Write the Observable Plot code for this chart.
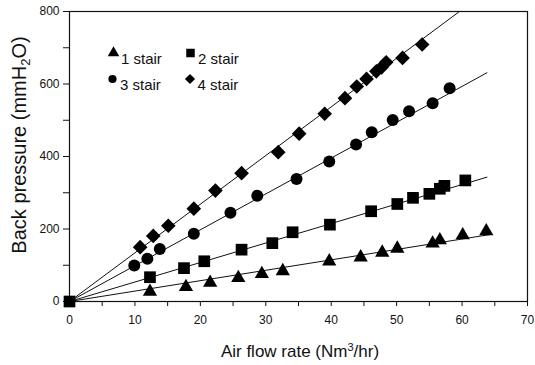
<!DOCTYPE html>
<html><head><meta charset="utf-8">
<script src="https://cdn.jsdelivr.net/npm/d3@7"></script>
<script src="https://cdn.jsdelivr.net/npm/@observablehq/plot@0.6"></script>
<style>
body{margin:0;background:#fff}
svg{font-family:"Liberation Sans",Arial,Helvetica,sans-serif}
</style>
</head><body><div id="chart"></div>
<script>
// Tick values
const xTicks = [0, 10, 20, 30, 40, 50, 60, 70];
const xMinor = [5, 15, 25, 35, 45, 55, 65];
const yTicks = [0, 200, 400, 600, 800];
const yMinor = [100, 300, 500, 700];

// Series
const seriesNames = ["1 stair", "2 stair", "3 stair", "4 stair"];
const seriesSymbols = ["triangle", "square", "circle", "diamond2"];

const stair1X = [12.3, 17.8, 21.5, 25.8, 29.4, 32.6, 39.7, 44.5, 47.8, 50.1, 55.5, 56.6, 60.1, 63.7];
const stair1Y = [27, 40, 52, 65, 76, 84, 111, 122, 135, 146, 160, 169, 183, 194];
const stair2X = [0, 12.3, 17.5, 20.6, 26.3, 31.0, 34.1, 39.8, 46.1, 50.1, 52.5, 55.0, 56.6, 57.3, 60.5];
const stair2Y = [0, 67, 92, 111, 143, 161, 191, 212, 249, 269, 286, 297, 311, 319, 334];
const stair3X = [9.9, 11.9, 13.8, 19.0, 24.6, 28.7, 34.7, 39.7, 43.8, 46.2, 49.4, 51.9, 55.5, 58.1];
const stair3Y = [99, 118, 145, 187, 245, 292, 338, 386, 433, 467, 501, 525, 547, 588];
const stair4X = [10.8, 12.8, 15.1, 19.0, 22.3, 26.3, 31.9, 35.1, 39.0, 42.1, 43.9, 45.4, 46.9, 47.7, 48.4, 50.9, 53.9];
const stair4Y = [150, 181, 209, 256, 306, 354, 412, 463, 518, 561, 593, 614, 635, 646, 660, 672, 709];

// Fitted lines through the origin: end points
const fitStartX = [0, 0, 0, 0];
const fitStartY = [0, 0, 0, 0];
const fitEndX = [64.4, 63.8, 63.8, 59.6];
const fitEndY = [185, 343, 631, 800];

const seriesX = [stair1X, stair2X, stair3X, stair4X];
const seriesY = [stair1Y, stair2Y, stair3Y, stair4Y];

const toRows = (xs, ys) => xs.map((x, i) => ({x, y: ys[i]}));
const fitRows = seriesNames.flatMap((s, i) => [
  {series: s, x: fitStartX[i], y: fitStartY[i]},
  {series: s, x: fitEndX[i], y: fitEndY[i]}
]);

const markerR = [5.3, 6.6, 6, 6.6];
const legendR = [4.3, 4.8, 4.1, 4.6];
const drawOrder = [0, 2, 3, 1];

const legendPos = [[44, 41.5], [121, 41.5], [43, 67.5], [120.5, 67.5]];

const marks = [
  Plot.frame({stroke: "#111", strokeWidth: 1.2}),
  Plot.axisX(xTicks, {tickSize: 5, tickPadding: 9, fontSize: 12, label: null, stroke: "#111", fill: "#111"}),
  Plot.axisX(xMinor, {tickSize: 5, tickFormat: () => "", label: null, stroke: "#111"}),
  Plot.axisY(yTicks, {tickSize: 6, tickPadding: 4, fontSize: 12, label: null, stroke: "#111", fill: "#111"}),
  Plot.axisY(yMinor, {tickSize: 6, tickFormat: () => "", label: null, stroke: "#111"}),
  Plot.line(fitRows, {x: "x", y: "y", z: "series", stroke: "#111", strokeWidth: 1}),
  ...drawOrder.map(i => Plot.dot(toRows(seriesX[i], seriesY[i]), {
    x: "x", y: "y", symbol: seriesSymbols[i], r: markerR[i], fill: "#000", stroke: "none"
  })),
  ...seriesNames.flatMap((name, i) => [
    Plot.dot([name], {frameAnchor: "top-left", dx: legendPos[i][0], dy: legendPos[i][1],
      symbol: seriesSymbols[i], r: legendR[i], fill: "#000", stroke: "none"}),
    Plot.text([name], {frameAnchor: "top-left", dx: legendPos[i][0] + 7.5, dy: legendPos[i][1] + 0.5,
      text: d => d, textAnchor: "start", fontSize: 15, fill: "#111"})
  ])
];

const chart = Plot.plot({
  width: 535,
  height: 365,
  marginLeft: 69,
  marginRight: 8,
  marginTop: 11,
  marginBottom: 64,
  x: {domain: [0, 70]},
  y: {domain: [0, 800]},
  style: {fontFamily: '"Liberation Sans", Arial, Helvetica, sans-serif', background: "#fff"},
  marks
});

const svg = d3.select(chart);
const xt = svg.append("text")
  .attr("x", 300).attr("y", 357)
  .attr("text-anchor", "middle")
  .attr("font-size", 17).attr("fill", "#111");
xt.append("tspan").text("Air flow rate (Nm");
xt.append("tspan").attr("dy", -6).attr("font-size", 11).text("3");
xt.append("tspan").attr("dy", 6).text("/hr)");

const yt = svg.append("text")
  .attr("transform", "translate(26,145) rotate(-90)")
  .attr("text-anchor", "middle")
  .attr("font-size", 20).attr("fill", "#111");
yt.append("tspan").text("Back pressure (mmH");
yt.append("tspan").attr("dy", 4).attr("font-size", 13).text("2");
yt.append("tspan").attr("dy", -4).text("O)");

document.getElementById("chart").append(chart);
</script>
</body></html>
